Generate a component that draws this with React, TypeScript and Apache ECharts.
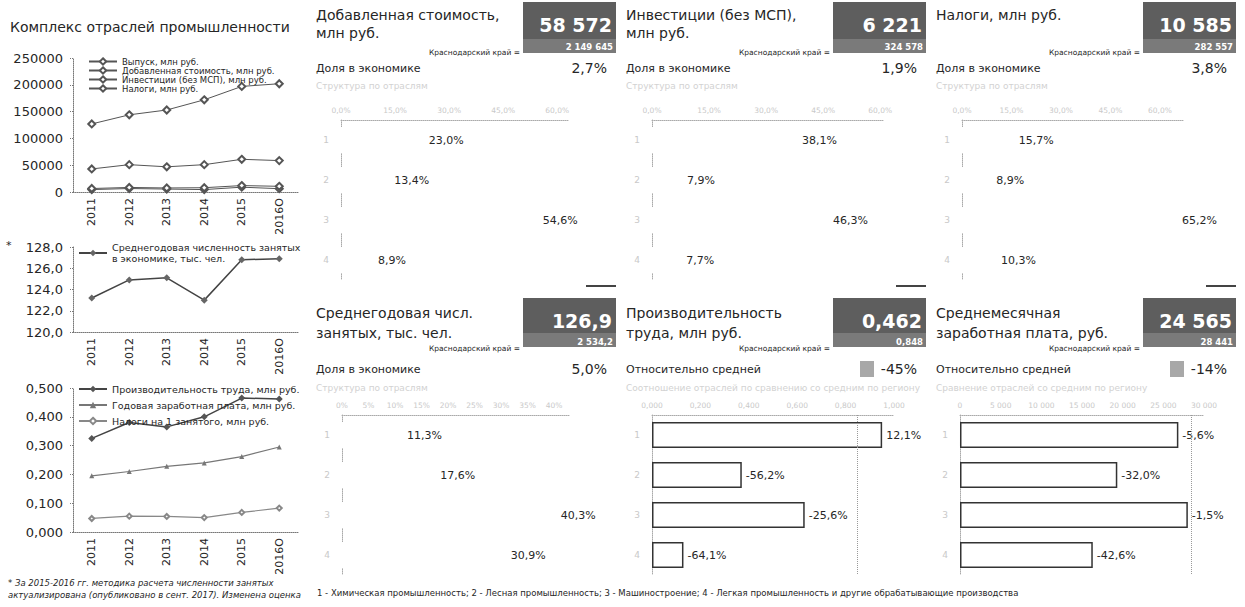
import React, { useEffect, useRef } from 'react';
import * as echarts from 'echarts';

// ---------- data ----------
const years = ['2011', '2012', '2013', '2014', '2015', '2016О'];
const outputSeries = [127000, 144000, 153000, 172000, 197000, 202000];
const valueAddedSeries = [43000, 51000, 47000, 51000, 61000, 58600];
const investmentSeries = [4500, 6500, 5500, 4500, 9000, 6200];
const taxesSeries = [6500, 8500, 7500, 8000, 12000, 10600];
const employmentSeries = [123.2, 124.9, 125.1, 123.0, 126.8, 126.9];
const productivitySeries = [0.325, 0.38, 0.365, 0.4, 0.465, 0.462];
const annualWageSeries = [0.195, 0.21, 0.228, 0.24, 0.262, 0.295];
const taxPerEmployeeSeries = [0.047, 0.055, 0.054, 0.05, 0.068, 0.083];

const industries = ['1', '2', '3', '4'];
const vaShare = [23.0, 13.4, 54.6, 8.9];
const invShare = [38.1, 7.9, 46.3, 7.7];
const taxShare = [15.7, 8.9, 65.2, 10.3];
const empShare = [11.3, 17.6, 40.3, 30.9];
const prodByIndustry = [0.951, 0.371, 0.631, 0.13];
const prodDeviation = ['12,1%', '-56,2%', '-25,6%', '-64,1%'];
const regionProductivity = 0.848;
const wageByIndustry = [26848, 19340, 28014, 16325];
const wageDeviation = ['-5,6%', '-32,0%', '-1,5%', '-42,6%'];
const regionWage = 28441;

const panelTitles = [
  ['Добавленная стоимость,', 'млн руб.'],
  ['Инвестиции (без МСП),', 'млн руб.'],
  ['Налоги, млн руб.'],
  ['Среднегодовая числ.', 'занятых, тыс. чел.'],
  ['Производительность', 'труда, млн руб.'],
  ['Среднемесячная', 'заработная плата, руб.'],
];
const panelValues = ['58 572', '6 221', '10 585', '126,9', '0,462', '24 565'];
const regionValues = ['2 149 645', '324 578', '282 557', '2 534,2', '0,848', '28 441'];
const metricLabels = ['Доля в экономике', 'Доля в экономике', 'Доля в экономике', 'Доля в экономике', 'Относительно средней', 'Относительно средней'];
const metricValues = ['2,7%', '1,9%', '3,8%', '5,0%', '-45%', '-14%'];
const panelSubtitles = [
  'Структура по отраслям',
  'Структура по отраслям',
  'Структура по отраслям',
  'Структура по отраслям',
  'Соотношение отраслей по сравнению со средним по региону',
  'Сравнение отраслей со средним по региону',
];
const mainTitle = 'Комплекс отраслей промышленности';
const regionLabel = 'Краснодарский край =';
const footerText = '1 - Химическая промышленность; 2 - Лесная промышленность; 3 - Машиностроение; 4 - Легкая промышленность и другие обрабатывающие производства';
const footnoteLines = [
  '* За 2015-2016 гг. методика расчета численности занятых',
  'актуализирована (опубликовано в сент. 2017). Изменена оценка',
];

// ---------- helpers ----------
const FONT = 'DejaVu Sans';
const DARK = '#262626';
const FAINT = '#c9c9c9';
const commaFixed = (v: number, d: number) => v.toFixed(d).replace('.', ',');
const spaced = (v: number) => String(Math.round(v)).replace(/\B(?=(\d{3})+(?!\d))/g, ' ');

function buildOption() {
  const grids: any[] = [
    { left: 73, top: 58, width: 225, height: 134 },
    { left: 73, top: 247, width: 225, height: 85 },
    { left: 73, top: 388, width: 225, height: 144 },
    { left: 341, top: 120, width: 227, height: 160 },
    { left: 652, top: 120, width: 232, height: 160 },
    { left: 962, top: 120, width: 221, height: 160 },
    { left: 342, top: 415, width: 228, height: 160 },
    { left: 652, top: 415, width: 242, height: 160 },
    { left: 960, top: 415, width: 244, height: 160 },
  ];

  const dotted = { color: '#777', type: 'dotted', width: 1 };
  const xAxes: any[] = [];
  const yAxes: any[] = [];

  // left line charts
  const leftY = [
    { min: 0, max: 250000, interval: 50000, fmt: (v: number) => String(v) },
    { min: 120, max: 128, interval: 2, fmt: (v: number) => commaFixed(v, 1) },
    { min: 0, max: 0.5, interval: 0.1, fmt: (v: number) => commaFixed(v, 3) },
  ];
  leftY.forEach((a, i) => {
    xAxes.push({
      type: 'category', gridIndex: i, data: years, boundaryGap: true,
      axisLine: { lineStyle: dotted }, axisTick: { show: false },
      axisLabel: { rotate: 90, fontSize: 11, color: DARK, margin: 6, fontFamily: FONT },
    });
    yAxes.push({
      type: 'value', gridIndex: i, min: a.min, max: a.max, interval: a.interval,
      axisLine: { show: true, lineStyle: dotted },
      axisTick: { show: true, length: 3, lineStyle: dotted },
      splitLine: { show: false },
      axisLabel: { fontSize: 13, color: DARK, margin: 10, fontFamily: FONT, formatter: a.fmt },
    });
  });

  // right bar charts
  const barAxes = [
    { max: 63, interval: 15, fmt: (v: number) => commaFixed(v, 1) + '%' },
    { max: 61, interval: 15, fmt: (v: number) => commaFixed(v, 1) + '%' },
    { max: 67, interval: 15, fmt: (v: number) => commaFixed(v, 1) + '%' },
    { max: 43, interval: 5, fmt: (v: number) => commaFixed(v, 0) + '%' },
    { max: 1, interval: 0.2, fmt: (v: number) => commaFixed(v, 3) },
    { max: 30000, interval: 5000, fmt: (v: number) => spaced(v) },
  ];
  const faintLine = { color: '#aaa', type: 'dotted', width: 1 };
  barAxes.forEach((a, k) => {
    const gi = k + 3;
    xAxes.push({
      type: 'value', gridIndex: gi, position: 'top', min: 0, max: a.max, interval: a.interval,
      axisLine: { show: true, onZero: false, lineStyle: faintLine }, axisTick: { show: false },
      splitLine: { show: false },
      axisLabel: { fontSize: 7.5, color: FAINT, margin: 6, fontFamily: FONT, formatter: a.fmt, showMaxLabel: k >= 4 },
    });
    yAxes.push({
      type: 'category', gridIndex: gi, data: industries, inverse: true,
      axisLine: { show: true, lineStyle: faintLine }, axisTick: { show: false },
      axisLabel: { fontSize: 9, color: FAINT, margin: 12, fontFamily: FONT },
    });
  });

  const lineColor = '#555';
  const series: any[] = [
    { type: 'line', name: 'Выпуск, млн руб.', xAxisIndex: 0, yAxisIndex: 0, data: outputSeries, symbol: 'emptyDiamond', symbolSize: 7, lineStyle: { color: lineColor, width: 1 }, itemStyle: { color: lineColor } },
    { type: 'line', name: 'Добавленная стоимость, млн руб.', xAxisIndex: 0, yAxisIndex: 0, data: valueAddedSeries, symbol: 'emptyDiamond', symbolSize: 7, lineStyle: { color: lineColor, width: 1 }, itemStyle: { color: lineColor } },
    { type: 'line', name: 'Инвестиции (без МСП), млн руб.', xAxisIndex: 0, yAxisIndex: 0, data: investmentSeries, symbol: 'emptyDiamond', symbolSize: 7, lineStyle: { color: lineColor, width: 1 }, itemStyle: { color: lineColor } },
    { type: 'line', name: 'Налоги, млн руб.', xAxisIndex: 0, yAxisIndex: 0, data: taxesSeries, symbol: 'emptyDiamond', symbolSize: 7, lineStyle: { color: lineColor, width: 1 }, itemStyle: { color: lineColor } },
    { type: 'line', name: 'Среднегодовая численность занятых\nв экономике, тыс. чел.', xAxisIndex: 1, yAxisIndex: 1, data: employmentSeries, symbol: 'diamond', symbolSize: 7, lineStyle: { color: '#444', width: 1.5 }, itemStyle: { color: '#666' } },
    { type: 'line', name: 'Производительность труда, млн руб.', xAxisIndex: 2, yAxisIndex: 2, data: productivitySeries, symbol: 'diamond', symbolSize: 7, lineStyle: { color: '#444', width: 1.5 }, itemStyle: { color: '#555' } },
    { type: 'line', name: 'Годовая заработная плата, млн руб.', xAxisIndex: 2, yAxisIndex: 2, data: annualWageSeries, symbol: 'triangle', symbolSize: 5, lineStyle: { color: '#777', width: 1.2 }, itemStyle: { color: '#777' } },
    { type: 'line', name: 'Налоги на 1 занятого, млн руб.', xAxisIndex: 2, yAxisIndex: 2, data: taxPerEmployeeSeries, symbol: 'emptyDiamond', symbolSize: 5, lineStyle: { color: '#888', width: 1.2 }, itemStyle: { color: '#888' } },
  ];

  const shareData = [vaShare, invShare, taxShare, empShare];
  shareData.forEach((d, k) => {
    const gi = k < 3 ? k + 3 : 6;
    series.push({
      type: 'bar', name: 'share' + k, xAxisIndex: gi, yAxisIndex: gi, data: d, barWidth: 26,
      itemStyle: { color: '#fff', borderWidth: 0 },
      label: { show: true, position: 'right', distance: 5, fontSize: 11, color: DARK, fontFamily: FONT, formatter: (p: any) => commaFixed(p.value, 1) + '%' },
    });
  });
  const devBars = [
    { gi: 7, data: prodByIndustry, labels: prodDeviation, avg: regionProductivity },
    { gi: 8, data: wageByIndustry, labels: wageDeviation, avg: regionWage },
  ];
  devBars.forEach((b, k) => {
    series.push({
      type: 'bar', name: 'dev' + k, xAxisIndex: b.gi, yAxisIndex: b.gi, data: b.data, barWidth: 26,
      itemStyle: { color: '#fff', borderColor: '#333', borderWidth: 1.5 },
      label: { show: true, position: 'right', distance: 4, fontSize: 11, color: DARK, fontFamily: FONT, formatter: (p: any) => b.labels[p.dataIndex] },
      markLine: {
        silent: true, symbol: ['none', 'none'], label: { show: false },
        lineStyle: { color: '#999', type: 'dotted', width: 1 },
        data: [{ xAxis: b.avg }],
      },
    });
  });

  const legendBase = { orient: 'vertical', selectedMode: false, padding: 0, itemWidth: 28, itemHeight: 8, textStyle: { color: DARK, fontFamily: FONT } };
  const legends: any[] = [
    { ...legendBase, left: 88, top: 57, itemGap: 0, data: series.slice(0, 4).map((s) => s.name), textStyle: { ...legendBase.textStyle, fontSize: 8.5, lineHeight: 8.5 } },
    { ...legendBase, left: 78, top: 242, itemGap: 0, data: [series[4].name], textStyle: { ...legendBase.textStyle, fontSize: 9.5, lineHeight: 11 } },
    { ...legendBase, left: 78, top: 383, itemGap: 4, data: series.slice(5, 8).map((s) => s.name), textStyle: { ...legendBase.textStyle, fontSize: 9.5, lineHeight: 12 } },
  ];

  // ---------- graphic texts ----------
  const g: any[] = [];
  const txt = (text: string, x: number, y: number, size: number, opts: any = {}) =>
    g.push({
      type: 'text', x, y, silent: true,
      style: {
        text, fill: opts.fill || DARK, align: opts.align || 'left', verticalAlign: 'middle',
        font: `${opts.style || 'normal'} ${opts.weight || 'normal'} ${size}px "${FONT}"`,
      },
    });

  txt(mainTitle, 10, 27, 14);
  txt('*', 6, 245, 11);

  const colX = [312, 622, 932];
  const rows = [
    { t1: 15, t2: 33, boxY: 2, boxH: 51, big: 25, small: 47, kk: 52, metric: 68, sub: 86 },
    { t1: 313, t2: 333, boxY: 298, boxH: 49, big: 321, small: 342, kk: 348, metric: 369, sub: 388 },
  ];
  for (let i = 0; i < 6; i++) {
    const c = i % 3;
    const r = rows[Math.floor(i / 3)];
    const x0 = colX[c];
    const boxX = x0 + 211;
    const boxR = boxX + 93;
    txt(panelTitles[i][0], x0 + 4, r.t1, 14);
    if (panelTitles[i][1]) txt(panelTitles[i][1], x0 + 4, r.t2, 14);
    g.push({ type: 'rect', silent: true, shape: { x: boxX, y: r.boxY, width: 93, height: r.boxH }, style: { fill: '#5e5e5e' } });
    g.push({ type: 'rect', silent: true, shape: { x: boxX, y: r.boxY + r.boxH - 14, width: 93, height: 14 }, style: { fill: '#7a7a7a' } });
    txt(panelValues[i], boxR - 4, r.big, 19, { fill: '#fff', align: 'right', weight: 'bold' });
    txt(regionValues[i], boxR - 3, r.small, 8.5, { fill: '#fff', align: 'right', weight: 'bold' });
    txt(regionLabel, boxX - 3, r.kk, 7.5, { align: 'right' });
    txt(metricLabels[i], x0 + 4, r.metric, 11);
    if (i >= 4) {
      g.push({ type: 'rect', silent: true, shape: { x: boxR - 66, y: r.metric - 8, width: 14, height: 16 }, style: { fill: '#a8a8a8' } });
    }
    txt(metricValues[i], boxR - 9, r.metric, 14, { align: 'right' });
    txt(panelSubtitles[i], x0 + 4, r.sub, 9, { fill: '#d2d2d2' });
    if (i < 3) {
      g.push({ type: 'rect', silent: true, shape: { x: boxR - 30, y: 285, width: 30, height: 2 }, style: { fill: '#444' } });
    }
  }

  txt(footerText, 317, 593, 8.5);
  footnoteLines.forEach((l, k) => txt(l, 8, 583 + k * 12, 8.5, { style: 'italic' }));

  return {
    animation: false,
    backgroundColor: '#fff',
    textStyle: { fontFamily: FONT },
    grid: grids,
    xAxis: xAxes,
    yAxis: yAxes,
    legend: legends,
    series,
    graphic: g,
  };
}

export default function App() {
  const ref = useRef<HTMLDivElement>(null);
  useEffect(() => {
    if (!ref.current) return;
    const chart = echarts.init(ref.current, null, { renderer: 'svg' });
    chart.setOption(buildOption() as any);
    return () => chart.dispose();
  }, []);
  return (
    <div
      ref={ref}
      style={{ position: 'absolute', left: 0, top: 0, width: 1245, height: 607, background: '#fff' }}
    />
  );
}
